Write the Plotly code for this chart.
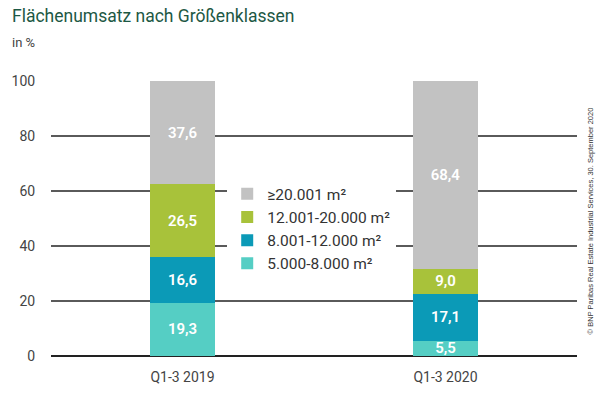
import plotly.graph_objects as go

categories = ["Q1-3 2019", "Q1-3 2020"]
series_names = ["5.000-8.000 m²", "8.001-12.000 m²", "12.001-20.000 m²", "≥20.001 m²"]
vals_5000 = [19.3, 5.5]
vals_8001 = [16.6, 17.1]
vals_12001 = [26.5, 9.0]
vals_20001 = [37.6, 68.4]
series_values = [vals_5000, vals_8001, vals_12001, vals_20001]
colors = ["#55cec4", "#0b9ab7", "#a8c23a", "#c2c2c2"]
y_ticks = [0, 20, 40, 60, 80, 100]

fig = go.Figure()
for name, vals, col in zip(series_names, series_values, colors):
    fig.add_trace(go.Bar(
        x=categories, y=vals, name=name,
        marker=dict(color=col, line=dict(width=0)),
        text=[f"{v:.1f}".replace(".", ",") for v in vals],
        textposition="inside", insidetextanchor="middle",
        textfont=dict(color="white", size=15, family="Roboto, sans-serif", weight=600),
        textangle=0, constraintext="none", cliponaxis=False,
    ))

fig.update_layout(
    barmode="stack", bargap=0.75,
    width=600, height=397,
    margin=dict(l=45, r=23, t=81, b=41),
    paper_bgcolor="white", plot_bgcolor="white",
    font=dict(family="Roboto, sans-serif", color="#444444"),
    showlegend=True,
    legend=dict(
        x=0.335, y=0.65, xanchor="left", yanchor="top",
        bgcolor="white", traceorder="reversed",
        font=dict(size=15.5, color="#333333"),
        itemwidth=30, tracegroupgap=0,
    ),
    yaxis=dict(
        range=[0, 100], tickvals=y_ticks, showgrid=True,
        gridcolor="#5a5a5a", gridwidth=1.5,
        zeroline=True, zerolinecolor="#222222", zerolinewidth=2,
        ticks="outside", ticklen=12, tickcolor="white",
        tickfont=dict(size=14, color="#444444"),
        showline=False, layer="below traces",
    ),
    xaxis=dict(
        showgrid=False, showline=False, ticks="outside", ticklen=8, tickcolor="white",
        tickfont=dict(size=14, color="#444444"),
    ),
)

fig.add_annotation(
    text="Flächenumsatz nach Größenklassen", xref="paper", yref="paper",
    x=-0.077, y=1.235, xanchor="left", yanchor="middle", showarrow=False,
    font=dict(size=17.5, color="#1d5844", family="Roboto, sans-serif"),
)
fig.add_annotation(
    text="in %", xref="paper", yref="paper",
    x=-0.077, y=1.14, xanchor="left", yanchor="middle", showarrow=False,
    font=dict(size=13, color="#444444"),
)
fig.add_annotation(
    text="© BNP Paribas Real Estate Industrial Services, 30. September 2020",
    xref="paper", yref="paper", x=1.025, y=0.49, xanchor="center", yanchor="middle",
    textangle=-90, showarrow=False,
    font=dict(size=7.5, color="#333333", family="Liberation Sans Narrow, sans-serif"),
)

fig.write_html("out.html", config={"displayModeBar": False},
               post_script="document.body.style.margin='0';")
